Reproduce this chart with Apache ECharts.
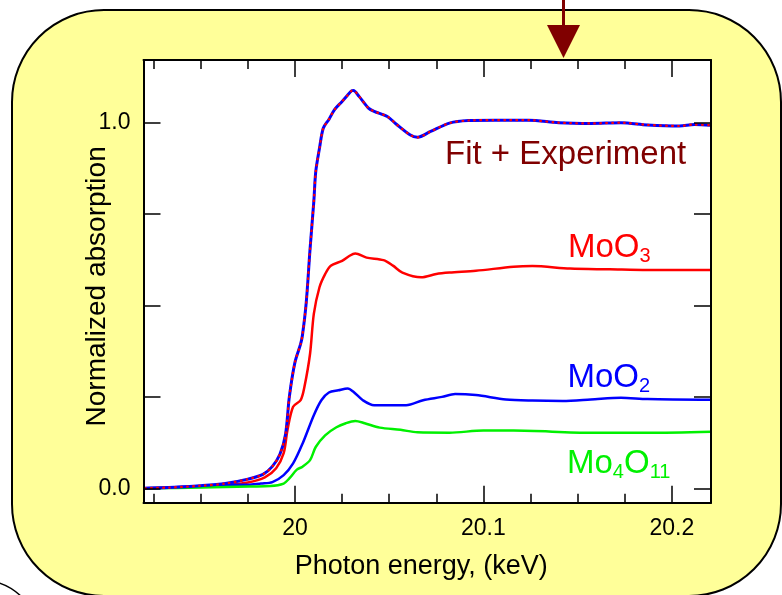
<!DOCTYPE html>
<html>
<head>
<meta charset="utf-8">
<script src="https://cdn.jsdelivr.net/npm/echarts@6/dist/echarts.min.js"></script>
<style>
html,body{margin:0;padding:0;background:#fff;}
#c{width:782px;height:595px;}
</style>
</head>
<body>
<div id="c"></div>
<script>
// ---- data ----
const totalE = [19.920,19.933,19.950,19.963,19.975,19.983,19.988,19.992,19.995,19.997,20.000,20.003,20.004,20.006,20.008,20.010,20.011,20.013,20.015,20.018,20.021,20.025,20.028,20.030,20.031,20.034,20.039,20.042,20.049,20.054,20.061,20.065,20.072,20.082,20.092,20.106,20.124,20.140,20.157,20.173,20.187,20.204,20.212,20.221];
const totalV = [0.000,0.002,0.007,0.013,0.025,0.038,0.060,0.093,0.148,0.250,0.345,0.395,0.420,0.510,0.655,0.785,0.865,0.930,0.985,1.009,1.036,1.058,1.076,1.087,1.088,1.072,1.040,1.031,1.017,0.995,0.967,0.960,0.976,0.999,1.006,1.007,1.007,1.000,0.998,1.000,0.994,0.991,0.995,0.993];

const moo3E = [19.920,19.950,19.963,19.975,19.984,19.990,19.994,19.996,19.999,20.003,20.005,20.008,20.010,20.013,20.016,20.019,20.025,20.029,20.032,20.038,20.047,20.052,20.057,20.067,20.075,20.082,20.096,20.116,20.126,20.146,20.167,20.187,20.221];
const moo3V = [0.000,0.005,0.009,0.016,0.030,0.055,0.096,0.159,0.223,0.241,0.277,0.368,0.477,0.550,0.586,0.609,0.622,0.636,0.642,0.631,0.624,0.609,0.590,0.577,0.586,0.590,0.595,0.606,0.608,0.601,0.599,0.597,0.597];

const moo2E = [19.920,19.933,19.950,19.963,19.976,19.982,19.988,19.994,19.999,20.004,20.010,20.014,20.018,20.023,20.028,20.031,20.036,20.042,20.050,20.059,20.068,20.078,20.085,20.096,20.112,20.126,20.142,20.157,20.173,20.187,20.221];
const moo2V = [0.000,0.002,0.006,0.009,0.010,0.013,0.017,0.036,0.068,0.122,0.200,0.241,0.262,0.268,0.273,0.264,0.241,0.227,0.227,0.227,0.241,0.250,0.258,0.255,0.243,0.240,0.239,0.243,0.248,0.244,0.242];

const mo4o11E = [19.920,19.950,19.976,19.987,19.994,19.997,20.001,20.004,20.008,20.011,20.016,20.022,20.027,20.032,20.037,20.045,20.056,20.065,20.082,20.100,20.116,20.157,20.187,20.221];
const mo4o11V = [0.000,0.002,0.005,0.006,0.013,0.027,0.051,0.059,0.077,0.113,0.145,0.167,0.178,0.184,0.178,0.166,0.160,0.153,0.152,0.158,0.158,0.152,0.152,0.155];

const xMajorTicks = [20.0, 20.1, 20.2];
const xMinorTicks = [19.925, 19.95, 19.975, 20.025, 20.05, 20.075, 20.125, 20.15, 20.175];
const yTicks = [0, 0.25, 0.5, 0.75, 1.0];
const yLabels = [0, 1.0];

// ---- build ----
const zip = (a, b) => a.map((v, i) => [v, b[i]]);
const X_MIN = 19.9196, X_MAX = 20.2208, Y_MIN = -0.0394, Y_MAX = 1.1715;
const FONT = '"Liberation Sans", Arial, sans-serif';

function xAx(pos, vals, len, labels, line) {
  return {
    type: 'value', position: pos, min: X_MIN, max: X_MAX, z: 10,
    axisLine: { show: line, onZero: false, lineStyle: { color: '#000', width: 2 } },
    axisTick: { show: true, inside: true, length: len, customValues: vals, lineStyle: { color: '#000', width: 1.5 } },
    axisLabel: labels ? { show: true, customValues: xMajorTicks, margin: 14, color: '#000', fontSize: 23, fontFamily: FONT,
      formatter: v => String(Math.round(v * 10) / 10) } : { show: false },
    splitLine: { show: false },
    name: (labels ? 'Photon energy, (keV)' : ''),
    nameLocation: 'middle', nameGap: 50,
    nameTextStyle: { color: '#000', fontSize: 27, fontFamily: FONT, padding: [0, 12, 0, 0] }
  };
}
function yAx(pos, labels) {
  return {
    type: 'value', position: pos, min: Y_MIN, max: Y_MAX, z: 10,
    axisLine: { show: true, onZero: false, lineStyle: { color: '#000', width: 2 } },
    axisTick: { show: true, inside: true, length: 17, customValues: yTicks, lineStyle: { color: '#000', width: 1.5 } },
    axisLabel: labels ? { show: true, customValues: yLabels, margin: 13, color: '#000', fontSize: 23, fontFamily: FONT,
      formatter: v => Number(v).toFixed(1), padding: [4, 0, 0, 0] } : { show: false },
    splitLine: { show: false },
    name: labels ? 'Normalized absorption' : '',
    nameLocation: 'middle', nameGap: 32, nameMoveOverlap: false,
    nameTextStyle: { color: '#000', fontSize: 28, fontFamily: FONT, padding: [0, 10, 0, 0] }
  };
}

// measure text for formula labels with subscripts
const mctx = document.createElement('canvas').getContext('2d');
function formula(parts, x, y, color) {
  const els = [];
  let cx = x;
  parts.forEach(p => {
    const size = p.sub ? 20 : 33;
    const font = size + 'px ' + FONT;
    mctx.font = font;
    els.push({ type: 'text', z: 100, silent: true,
      style: { text: p.t, x: cx, y: y + (p.sub ? 8 : 0), verticalAlign: 'middle', fill: color, font } });
    cx += mctx.measureText(p.t).width;
  });
  return els;
}

const chart = echarts.init(document.getElementById('c'), null, { renderer: 'canvas' });
const lineS = (name, d, color, w, z, type) => ({
  name, type: 'line', data: d, showSymbol: false, symbol: 'none', smooth: 0.3, z,
  lineStyle: { color, width: w, type: type || 'solid', cap: 'butt' }, animation: false
});

chart.setOption({
  animation: false,
  backgroundColor: 'transparent',
  grid: { left: 143.5, right: 71, top: 60, bottom: 92.3, show: true, backgroundColor: '#fff', borderWidth: 0 },
  xAxis: [
    xAx('bottom', xMajorTicks, 17, true, true),
    xAx('bottom', xMinorTicks, 9, false, false),
    xAx('top', xMajorTicks, 17, false, true),
    xAx('top', xMinorTicks, 9, false, false)
  ],
  yAxis: [yAx('left', true), yAx('right', false)],
  series: [
    lineS('MoO3', zip(moo3E, moo3V), '#ff0000', 2.5, 3),
    lineS('MoO2', zip(moo2E, moo2V), '#0000ff', 2.5, 3),
    lineS('Mo4O11', zip(mo4o11E, mo4o11V), '#00f000', 2.5, 3),
    lineS('Experiment', zip(totalE, totalV), '#0000ff', 3, 4),
    lineS('Fit', zip(totalE, totalV), '#ff0000', 2.2, 5, [2.5, 3.5])
  ],
  graphic: { elements: [
    { type: 'rect', z: -10, silent: true, shape: { x: 12, y: 10, width: 769, height: 586, r: 92 },
      style: { fill: '#ffff99', stroke: '#000', lineWidth: 2 } },
    { type: 'circle', z: -10, silent: true, shape: { cx: -20, cy: 640, r: 60 },
      style: { fill: 'none', stroke: '#000', lineWidth: 1.5 } },
    { type: 'line', z: 100, silent: true, shape: { x1: 563.5, y1: 0, x2: 563.5, y2: 27 },
      style: { stroke: '#800000', lineWidth: 3 } },
    { type: 'polygon', z: 100, silent: true, shape: { points: [[547, 25], [580, 25], [563.5, 58]] },
      style: { fill: '#800000' } },
    { type: 'text', z: 100, silent: true, style: { text: 'Fit + Experiment', x: 445, y: 155, verticalAlign: 'middle', fill: '#800000', font: '33px ' + FONT } }
  ].concat(
    formula([{ t: 'MoO' }, { t: '3', sub: true }], 568, 248, '#ff0000'),
    formula([{ t: 'MoO' }, { t: '2', sub: true }], 567.5, 378, '#0000ff'),
    formula([{ t: 'Mo' }, { t: '4', sub: true }, { t: 'O' }, { t: '11', sub: true }], 567, 464, '#00f000')
  )}
});
</script>
</body>
</html>
